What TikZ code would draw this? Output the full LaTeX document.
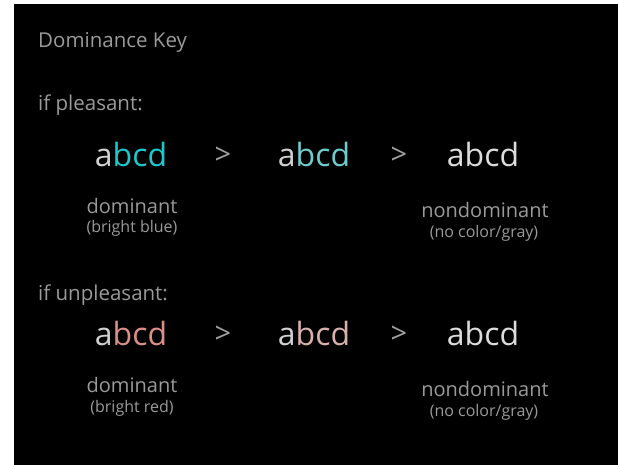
\documentclass[tikz,border=0pt]{standalone}
\usepackage{fontspec}
\setmainfont{Open Sans}
\definecolor{lbl}{HTML}{9A9A9A}
\definecolor{lettera}{HTML}{D0D0D0}
\definecolor{plain}{HTML}{DCDCDC}
\definecolor{cyanA}{HTML}{1CC8CC}
\definecolor{cyanB}{HTML}{70CCCC}
\definecolor{redA}{HTML}{DC8E88}
\definecolor{redB}{HTML}{D8B0AC}
\definecolor{gt}{HTML}{A0A0A0}
\tikzset{
  head/.style={anchor=base west, text=lbl, font=\fontsize{20.5}{24}\selectfont, inner sep=0pt},
  word/.style={anchor=base, font=\fontsize{32}{36}\selectfont, inner sep=0pt},
  gtsign/.style={anchor=base, text=gt, font=\fontsize{29}{32}\selectfont, inner sep=0pt},
  caption/.style={anchor=base, text=lbl, font=\fontsize{20}{24}\selectfont, inner sep=0pt},
  subcap/.style={anchor=base, text=lbl, font=\fontsize{16}{19}\selectfont, inner sep=0pt}
}
\begin{document}
\begin{tikzpicture}[x=1pt,y=-1pt]
\useasboundingbox (0,0) rectangle (618,465);
\fill[white] (0,0) rectangle (618,465);
\fill[black] (14,4) rectangle (618,465);
\node[head] (title) at (38,48) {Dominance Key};
\node[head] (hp) at (38,111) {if pleasant:};
\node[word] (p1) at (131,167) {\textcolor{lettera}{a}\textcolor{cyanA}{bcd}};
\node[gtsign] (g1) at (223,165) {>};
\node[word] (p2) at (314,167) {\textcolor{lettera}{a}\textcolor{cyanB}{bcd}};
\node[gtsign] (g2) at (399,165) {>};
\node[word, text=plain] (p3) at (483,167) {abcd};
\node[caption] (pd) at (132,213) {dominant};
\node[subcap] (pds) at (132,232) {(bright blue)};
\node[caption] (pn) at (485,217) {nondominant};
\node[subcap] (pns) at (484,237) {(no color/gray)};
\node[head] (hu) at (38,300) {if unpleasant:};
\node[word] (u1) at (131,345) {\textcolor{lettera}{a}\textcolor{redA}{bcd}};
\node[gtsign] (g3) at (223,343) {>};
\node[word] (u2) at (314,345) {\textcolor{lettera}{a}\textcolor{redB}{bcd}};
\node[gtsign] (g4) at (399,343) {>};
\node[word, text=plain] (u3) at (483,345) {abcd};
\node[caption] (ud) at (132,392) {dominant};
\node[subcap] (uds) at (132,412) {(bright red)};
\node[caption] (un) at (485,396) {nondominant};
\node[subcap] (uns) at (484,416) {(no color/gray)};
\end{tikzpicture}
\end{document}
